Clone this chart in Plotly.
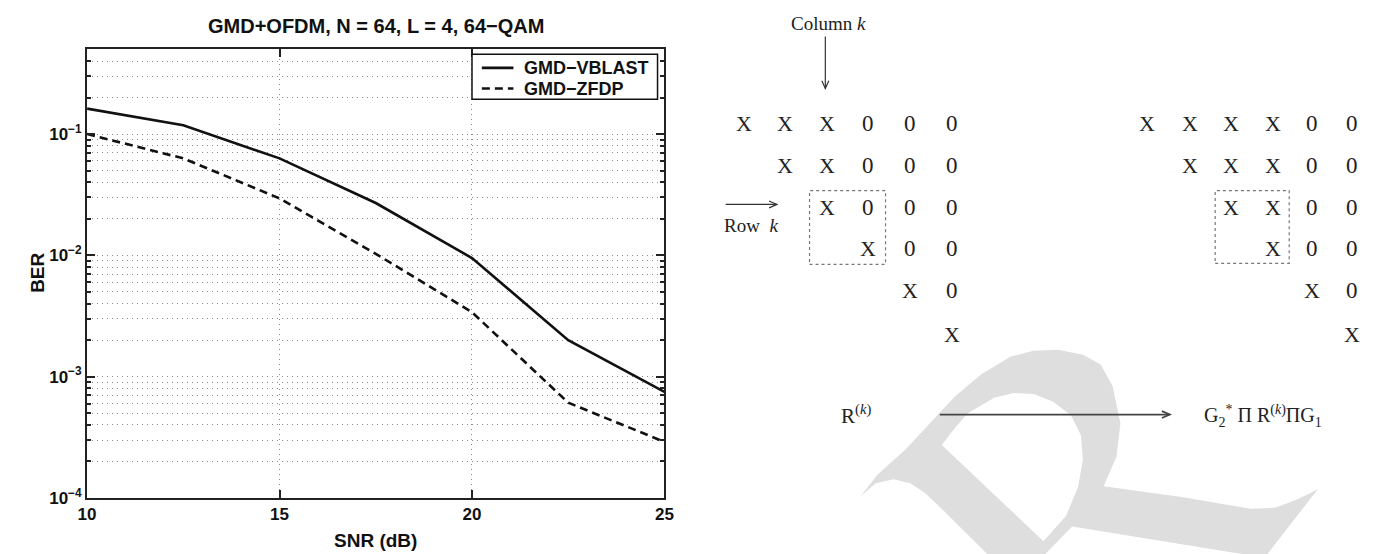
import plotly.graph_objects as go

W, H = 1381, 554

# ---------------- data ----------------
SNR_DB = [10, 12.5, 15, 17.5, 20, 22.5, 25]
BER_GMD_VBLAST = [0.162, 0.118, 0.063, 0.027, 0.0095, 0.0020, 0.00075]
BER_GMD_ZFDP = [0.100, 0.063, 0.0295, 0.0103, 0.0034, 0.00061, 0.00029]
SERIES_NAMES = ["GMD−VBLAST", "GMD−ZFDP"]
X_TICKS = [10, 15, 20, 25]
Y_TICKS = [1e-4, 1e-3, 1e-2, 1e-1]
Y_TICK_TEXT = ["10<sup>−4</sup>", "10<sup>−3</sup>", "10<sup>−2</sup>", "10<sup>−1</sup>"]
TITLE = "GMD+OFDM, N = 64, L = 4, 64−QAM"
X_LABEL = "SNR (dB)"
Y_LABEL = "BER"

# diagram content
MATRIX_BEFORE = ["XXX000", " XX000", "  X000", "   X00", "    X0", "     X"]
MATRIX_AFTER = ["XXXX00", " XXX00", "  XX00", "   X00", "    X0", "     X"]
COLUMN_LABEL = "Column <i>k</i>"
ROW_LABEL = "Row  <i>k</i>"
LEFT_EXPR = "R<sup>(<i>k</i>)</sup>"
RIGHT_EXPR = "G<sub>2</sub><sup>*</sup> Π R<sup>(<i>k</i>)</sup>ΠG<sub>1</sub>"


def px(x):
    return x / W


def py(y):
    return 1 - y / H


SANS = "Liberation Sans, Arial, sans-serif"
SERIF = "Liberation Serif, Times New Roman, serif"
LINE_STYLES = [dict(color="#111111", width=2.6),
               dict(color="#111111", width=2.6, dash="8px,5px")]

fig = go.Figure()
for name, ys, style in zip(SERIES_NAMES, [BER_GMD_VBLAST, BER_GMD_ZFDP], LINE_STYLES):
    fig.add_trace(go.Scatter(x=SNR_DB, y=ys, mode="lines", name=name, line=style,
                             showlegend=False))

minor_vals = []
for d in range(-4, 0):
    for k in range(2, 10):
        v = k * 10 ** d
        if v <= 0.5:
            minor_vals.append(v)

x0p, x1p, y0p, y1p = 71, 656, 42, 499
grid = dict(griddash="1px,4px", gridcolor="#8a8a8a", gridwidth=1)

fig.update_layout(
    width=W, height=H, autosize=False,
    margin=dict(l=0, r=0, t=0, b=0),
    paper_bgcolor="white", plot_bgcolor="white",
    showlegend=False,
    xaxis=dict(domain=[px(x0p), px(x1p)], range=[10, 25], tickvals=X_TICKS,
               ticks="inside", ticklen=8, tickwidth=1.5, tickcolor="#222",
               showline=True, linecolor="#222", linewidth=2, mirror="ticks",
               showgrid=True, zeroline=False, **grid,
               tickfont=dict(family=SANS, size=17, color="#111", weight="bold")),
    yaxis=dict(domain=[py(y1p), py(y0p)], type="log", range=[-4, 0.69897 - 1],
               tickvals=Y_TICKS, ticktext=Y_TICK_TEXT,
               ticks="inside", ticklen=8, tickwidth=1.5, tickcolor="#222",
               showline=True, linecolor="#222", linewidth=2, mirror="ticks",
               showgrid=True, zeroline=False, **grid,
               minor=dict(tickvals=minor_vals, ticks="inside", ticklen=4,
                          tickcolor="#222", showgrid=True, **grid),
               tickfont=dict(family=SANS, size=17, color="#111", weight="bold")),
)

ann = []
shapes = []

ann.append(dict(text=TITLE, x=px(363.5), y=py(18), xref="paper", yref="paper",
                showarrow=False, xanchor="center", yanchor="middle",
                font=dict(family=SANS, size=20, color="#111", weight="bold")))
ann.append(dict(text=X_LABEL, x=px(363.5), y=py(542), xref="paper", yref="paper",
                showarrow=False, xanchor="center", yanchor="middle",
                font=dict(family=SANS, size=19, color="#111", weight="bold")))
ann.append(dict(text=Y_LABEL, x=px(20), y=py(270), xref="paper", yref="paper",
                showarrow=False, xanchor="center", yanchor="middle", textangle=-90,
                font=dict(family=SANS, size=19, color="#111", weight="bold")))

# legend box (matlab style)
shapes.append(dict(type="rect", x0=px(461), y0=py(93), x1=px(649), y1=py(47),
                   xref="paper", yref="paper", fillcolor="white",
                   line=dict(color="#111", width=1.5), layer="above"))
for i, (name, style) in enumerate(zip(SERIES_NAMES, LINE_STYLES)):
    yy = 61 + 21 * i
    shapes.append(dict(type="line", x0=px(471), y0=py(yy), x1=px(503), y1=py(yy),
                       xref="paper", yref="paper", line=style, layer="above"))
    ann.append(dict(text=name, x=px(512), y=py(yy), xref="paper", yref="paper",
                    showarrow=False, xanchor="left", yanchor="middle",
                    font=dict(family=SANS, size=18, color="#111", weight="bold")))

# ---------------- diagram ----------------
ROWS_Y = [118, 160, 203, 245, 288, 332]
COLS_BEFORE = [737, 778, 821, 862, 905, 947]
COLS_AFTER = [1145, 1188, 1230, 1273, 1312, 1353]


def add_matrix(rows, cols):
    for r, row in enumerate(rows):
        for c, ch in enumerate(row):
            if ch == " ":
                continue
            ann.append(dict(text=ch, x=px(cols[c]), y=py(ROWS_Y[r]), xref="paper", yref="paper",
                            showarrow=False, xanchor="center", yanchor="middle",
                            font=dict(family=SERIF, size=22 if ch == "X" else 23, color="#222")))


add_matrix(MATRIX_BEFORE, COLS_BEFORE)
add_matrix(MATRIX_AFTER, COLS_AFTER)

ann.append(dict(text=COLUMN_LABEL, x=px(822), y=py(16), xref="paper", yref="paper",
                showarrow=False, xanchor="center", yanchor="middle",
                font=dict(family=SERIF, size=19, color="#222")))
ann.append(dict(text=ROW_LABEL, x=px(744), y=py(221), xref="paper", yref="paper",
                showarrow=False, xanchor="center", yanchor="middle",
                font=dict(family=SERIF, size=19, color="#222")))
ann.append(dict(text=LEFT_EXPR, x=px(850), y=py(414), xref="paper", yref="paper",
                showarrow=False, xanchor="center", yanchor="middle",
                font=dict(family=SERIF, size=21, color="#222")))
ann.append(dict(text=RIGHT_EXPR, x=px(1262), y=py(416), xref="paper", yref="paper",
                showarrow=False, xanchor="center", yanchor="middle",
                font=dict(family=SERIF, size=20, color="#222")))

# watermark (light grey calligraphic shape)
outer = [(855, 497), (872, 475), (900, 450), (925, 423), (950, 396), (977, 373), (1007, 355),
         (1030, 349), (1055, 348), (1080, 353), (1098, 363), (1110, 385), (1118, 423),
         (1114, 457), (1101, 487), (1180, 498), (1250, 510), (1275, 509), (1298, 500),
         (1318, 490), (1267, 556), (1241, 556), (1069, 528), (1042, 556), (983, 556),
         (960, 533), (940, 513), (920, 494), (905, 484), (888, 480), (870, 484)]
hole = [(937, 445), (950, 428), (963, 413), (990, 397), (1010, 392), (1030, 393), (1050, 401),
        (1068, 415), (1078, 435), (1080, 460), (1075, 488), (1063, 517), (1040, 543)]


def poly(points):
    return "M " + " L ".join(f"{px(a):.5f},{py(b):.5f}" for a, b in points) + " Z"


shapes.append(dict(type="path", path=poly(outer) + " " + poly(hole), xref="paper", yref="paper",
                   fillcolor="#dedede", line=dict(width=0), fillrule="evenodd", layer="below"))


def arrow(xa, ya, xb, yb, color="#333", width=1.2, head=8, spread=3.5):
    shapes.append(dict(type="line", x0=px(xa), y0=py(ya), x1=px(xb), y1=py(yb),
                       xref="paper", yref="paper", line=dict(color=color, width=width)))
    dx, dy = xb - xa, yb - ya
    L = (dx * dx + dy * dy) ** 0.5
    ux, uy = dx / L, dy / L
    bx, by = xb - ux * head, yb - uy * head
    p1 = (bx - uy * spread, by + ux * spread)
    p2 = (bx + uy * spread, by - ux * spread)
    path = (f"M {px(p1[0]):.5f},{py(p1[1]):.5f} L {px(xb):.5f},{py(yb):.5f} "
            f"L {px(p2[0]):.5f},{py(p2[1]):.5f}")
    shapes.append(dict(type="path", path=path, xref="paper", yref="paper",
                       line=dict(color=color, width=width)))


arrow(819, 29, 819, 82)
arrow(718, 200, 770, 200)
arrow(935, 414, 1168, 414, color="#444", width=1.8)


def dashed_box(xa, ya, xb, yb):
    shapes.append(dict(type="rect", x0=px(xa), y0=py(yb), x1=px(xb), y1=py(ya),
                       xref="paper", yref="paper",
                       line=dict(color="#777", width=1.2, dash="3px,3px")))


dashed_box(803, 186, 880, 261)
dashed_box(1214, 186, 1289, 260)

fig.update_layout(annotations=ann, shapes=shapes)
fig.write_html("out.html", config={"displayModeBar": False})
